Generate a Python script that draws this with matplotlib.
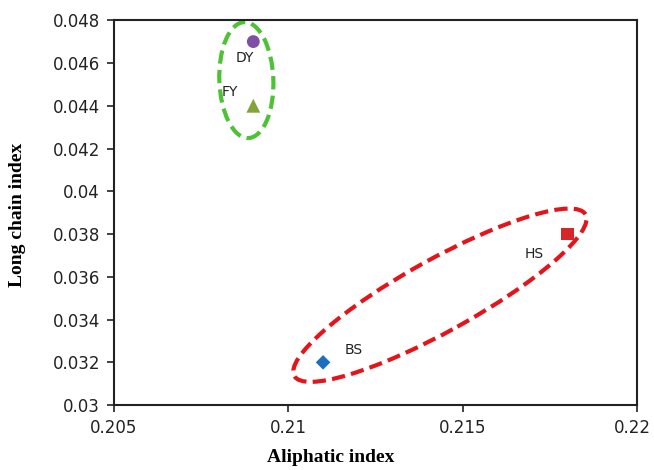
import matplotlib
matplotlib.use("Agg")
import matplotlib.pyplot as plt
from matplotlib.patches import Ellipse
from matplotlib.transforms import ScaledTranslation
from matplotlib.ticker import FuncFormatter

# Data
samples = ["DY", "FY", "HS", "BS"]
aliphatic = [0.209, 0.209, 0.218, 0.211]
long_chain = [0.047, 0.044, 0.038, 0.032]
markers = ["o", "^", "s", "D"]
colors = ["#7E4FA6", "#86A33A", "#D7262A", "#1C6EBF"]
x_ticks = [0.205, 0.21, 0.215, 0.22]
y_ticks = [0.03, 0.032, 0.034, 0.036, 0.038, 0.04, 0.042, 0.044, 0.046, 0.048]

fig = plt.figure(figsize=(6.54, 4.70), dpi=100)
ax = fig.add_axes([0.174, 0.138, 0.800, 0.819])

sizes = [85, 100, 85, 55]
for x, y, m, c, s in zip(aliphatic, long_chain, markers, colors, sizes):
    ax.scatter([x], [y], marker=m, color=c, s=s, zorder=3, edgecolors="none")

label_offsets = {"DY": (-6, -11.5), "FY": (-17, 10), "HS": (-24, -14), "BS": (22, 9)}
for name, x, y in zip(samples, aliphatic, long_chain):
    dx, dy = label_offsets[name]
    ax.annotate(name, (x, y), xytext=(dx, dy), textcoords="offset points",
                ha="center", va="center", fontsize=10, family="DejaVu Sans", color="#222222")

ax.set_xlim(0.205, 0.22)
ax.set_ylim(0.03, 0.048)
ax.set_xticks(x_ticks)
ax.set_yticks(y_ticks)
fmt = FuncFormatter(lambda v, p: ("%.3f" % v).rstrip("0").rstrip("."))
ax.xaxis.set_major_formatter(fmt)
ax.yaxis.set_major_formatter(fmt)
ax.tick_params(direction="out", length=5, width=1.2, labelsize=12, colors="#222222", pad=5)
for sp in ax.spines.values():
    sp.set_linewidth(1.5)
    sp.set_color("#222222")

# keep the last x tick label inside the canvas
fig.canvas.draw()
last = ax.get_xticklabels()[-1]
last.set_transform(last.get_transform() + ScaledTranslation(-5 / 100, 0, fig.dpi_scale_trans))

fig.text(331 / 654, 1 - 458 / 470, "Aliphatic index", family="Liberation Serif",
         fontweight="bold", fontsize=14, ha="center", va="center")
fig.text(18 / 654, 1 - 215 / 470, "Long chain index", family="Liberation Serif",
         fontweight="bold", fontsize=14, ha="center", va="center", rotation=90)

# Ellipses drawn in inches around data-space centres
def ell(cx, cy, w_px, h_px, ang, color):
    tr = fig.dpi_scale_trans + ScaledTranslation(cx, cy, ax.transData)
    e = Ellipse((0, 0), w_px / 100, h_px / 100, angle=ang, transform=tr,
                fill=False, edgecolor=color, linestyle=(0, (3.2, 1.5)), linewidth=3, zorder=2,
                clip_on=False)
    ax.add_patch(e)

ell(0.2088, 0.0452, 54, 116, 2, "#4EC235")
ell(0.21435, 0.03514, 333, 72, 29, "#E4141B")

fig.savefig("out.png", dpi=100)
